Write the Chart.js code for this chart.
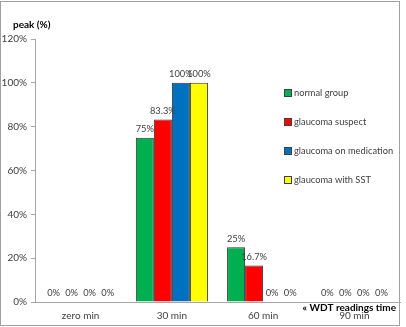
<!DOCTYPE html>
<html>
<head>
<meta charset="utf-8">
<script src="https://cdn.jsdelivr.net/npm/chart.js@4"></script>
<style>
  html, body { margin: 0; padding: 0; background: #fff; }
  #wrap { position: relative; width: 406px; height: 327px; font-family: Lato, "Liberation Sans", sans-serif; }
  #frame { position: absolute; left: 0; top: 1px; width: 398px; height: 323px; border: 1px solid #a0a0a0; pointer-events: none; }
  #legend { position: absolute; left: 284px; top: 88px; font-size: 9.3px; color: #404040; }
  #legend div { height: 29px; line-height: 10px; white-space: nowrap; }
  #legend span { display: inline-block; width: 6px; height: 6px; border: 1px solid #404040; margin-right: 2px; vertical-align: -0.5px; }
</style>
</head>
<body>
<div id="wrap">
  <canvas id="chart" width="406" height="327"></canvas>
  <div id="frame"></div>
  <div id="legend"></div>
</div>
<script>
// chart data
const categories = ['zero min', '30 min', '60 min', '90 min'];
const normalGroup = [0, 75, 25, 0];
const glaucomaSuspect = [0, 83.3, 16.7, 0];
const glaucomaMedication = [0, 100, 0, 0];
const glaucomaSST = [0, 100, 0, 0];
const yTicks = [0, 20, 40, 60, 80, 100, 120];

const seriesNames = ['normal group', 'glaucoma suspect', 'glaucoma on medication', 'glaucoma with SST'];
const seriesData = [normalGroup, glaucomaSuspect, glaucomaMedication, glaucomaSST];
const seriesColors = ['#00b050', '#ff0000', '#0070c0', '#ffff00'];

const FONT = 'Lato, "Liberation Sans", sans-serif';

// legend as html, sits over the plot area like in the original
const legendEl = document.getElementById('legend');
seriesNames.forEach((name, i) => {
  const row = document.createElement('div');
  const box = document.createElement('span');
  box.style.background = seriesColors[i];
  row.appendChild(box);
  row.appendChild(document.createTextNode(name));
  legendEl.appendChild(row);
});

const valueLabels = {
  id: 'valueLabels',
  afterDatasetsDraw(chart) {
    const ctx = chart.ctx;
    ctx.save();
    ctx.font = '9.3px ' + FONT;
    ctx.fillStyle = '#404040';
    ctx.textAlign = 'center';
    ctx.textBaseline = 'bottom';
    chart.data.datasets.forEach((ds, di) => {
      chart.getDatasetMeta(di).data.forEach((bar, i) => {
        const v = ds.data[i];
        ctx.fillText(v + '%', bar.x, bar.y - 4);
      });
    });
    ctx.restore();
  }
};

const axisTitles = {
  id: 'axisTitles',
  afterDraw(chart) {
    const ctx = chart.ctx;
    ctx.save();
    ctx.font = 'bold 10px ' + FONT;
    ctx.fillStyle = '#000';
    ctx.textBaseline = 'middle';
    ctx.textAlign = 'left';
    ctx.fillText('peak (%)', 13, 25);
    ctx.textAlign = 'right';
    ctx.fillText('\u00ab WDT readings time', 396, 308);
    ctx.restore();
  }
};

new Chart(document.getElementById('chart'), {
  type: 'bar',
  data: {
    labels: categories,
    datasets: seriesData.map((d, i) => ({
      label: seriesNames[i],
      data: d,
      backgroundColor: seriesColors[i],
      borderColor: '#333333',
      borderWidth: 1,
      barPercentage: 1,
      categoryPercentage: 0.79
    }))
  },
  options: {
    responsive: false,
    animation: false,
    layout: { padding: { top: 39, right: 6, left: 0, bottom: 0 } },
    plugins: {
      legend: { display: false },
      tooltip: { enabled: false }
    },
    scales: {
      x: {
        afterFit: (s) => { s.height = 25; },
        grid: { display: false, tickLength: 0 },
        border: { color: '#a6a6a6' },
        ticks: { color: '#404040', font: { family: FONT, size: 10 }, padding: 8, maxRotation: 0 }
      },
      y: {
        min: 0,
        max: 120,
        afterFit: (s) => { s.width = 35; },
        afterBuildTicks: (s) => { s.ticks = yTicks.map(v => ({ value: v })); },
        grid: { drawOnChartArea: false, drawTicks: true, tickLength: 4, color: '#a6a6a6' },
        border: { color: '#a6a6a6' },
        ticks: {
          color: '#404040',
          font: { family: FONT, size: 10 },
          padding: 4,
          callback: (v) => v + '%'
        }
      }
    }
  },
  plugins: [valueLabels, axisTitles]
});
</script>
</body>
</html>
